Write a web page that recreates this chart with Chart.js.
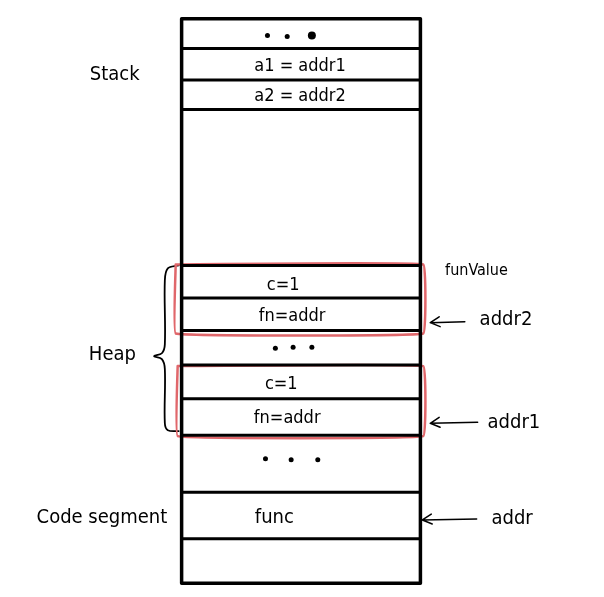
<!DOCTYPE html>
<html>
<head>
<meta charset="utf-8">
<script src="https://cdn.jsdelivr.net/npm/chart.js@4"></script>
<style>
    html, body { margin: 0; padding: 0; background: #fff; }
    #wrap { width: 604px; height: 597px; }
</style>
</head>
<body>
<div id="wrap"><canvas id="memChart"></canvas></div>
<script>
// memory column, in diagram units (0..604 across, 0..597 down)
const colLeft = 180;
const colRight = 422;
const rowLines = [15, 45, 77, 107, 265, 298, 331, 366, 400, 437, 495, 542, 587];

// text inside the cells
const cellTexts = ['a1 = addr1', 'a2 = addr2', 'c=1', 'fn=addr', 'c=1', 'fn=addr', 'func'];
const cellTextX = [300, 300, 283, 292, 281, 287, 274];
const cellTextY = [63, 94, 285, 317, 385, 420, 521];

// segment names on the left
const segNames = ['Stack', 'Heap', 'Code segment'];
const segX = [87, 86, 33];
const segY = [72, 356, 521];

// labels on the right
const sideLabels = ['funValue', 'addr2', 'addr1', 'addr'];
const sideX = [447, 482, 490, 494];
const sideY = [270, 320, 424, 522];

// arrows pointing at the column
const arrowFrom = [467, 480, 479];
const arrowTo = [432, 432, 424];
const arrowY = [323, 425, 523];

// ellipsis dots
const dotX = [267, 287, 312, 275, 293, 312, 265, 291, 318];
const dotY = [32, 33, 32, 349, 348, 348, 461, 462, 462];

// red boxes around the two closures
const boxLeft = [174, 176];
const boxRight = [425, 425];
const boxTop = [264, 367];
const boxBottom = [334, 438];

// curly brace for the heap
const braceX = [177, 166, 163, 163, 160, 152, 160, 163, 163, 166, 177];
const braceY = [265, 268, 280, 345, 354, 357, 360, 370, 425, 432, 433];

const datasets = [];

function lineSet(points, color, width, tension) {
    return {
        type: 'line',
        data: points,
        borderColor: color,
        borderWidth: width,
        pointRadius: 0,
        fill: false,
        tension: tension || 0,
        borderCapStyle: 'round',
        borderJoinStyle: 'round',
        spanGaps: false
    };
}

// column outline
datasets.push(lineSet([
    {x: colLeft, y: rowLines[0]}, {x: colRight, y: rowLines[0]},
    {x: colRight, y: rowLines[rowLines.length - 1]}, {x: colLeft, y: rowLines[rowLines.length - 1]},
    {x: colLeft, y: rowLines[0]}
], '#000', 3.5));

// row dividers
const dividers = [];
rowLines.slice(1, -1).forEach(y => {
    dividers.push({x: colLeft, y: y}, {x: colRight, y: y}, {x: null, y: null});
});
datasets.push(lineSet(dividers, '#000', 3));

// red boxes
boxLeft.forEach((l, i) => {
    datasets.push(lineSet([
        {x: l, y: boxTop[i]}, {x: boxRight[i], y: boxTop[i]},
        {x: boxRight[i], y: boxBottom[i]}, {x: l, y: boxBottom[i]},
        {x: l, y: boxTop[i]}
    ], '#e0676b', 2.5, 0.05));
});

// brace
datasets.push(lineSet(braceX.map((x, i) => ({x: x, y: braceY[i]})), '#000', 1.8, 0.35));

// arrows
arrowFrom.forEach((f, i) => {
    const t = arrowTo[i], y = arrowY[i];
    datasets.push(lineSet([
        {x: f, y: y - 1}, {x: t, y: y}, {x: null, y: null},
        {x: t + 9, y: y - 6}, {x: t, y: y}, {x: t + 10, y: y + 4}
    ], '#000', 1.5, 0));
});

// dots
datasets.push({
    type: 'scatter',
    data: dotX.map((x, i) => ({x: x, y: dotY[i]})),
    pointRadius: dotX.map((x, i) => (i === 2 ? 4 : 2.5)),
    pointBackgroundColor: '#000',
    pointBorderWidth: 0,
    showLine: false
});

const fontFamily = '"DejaVu Sans Condensed", "DejaVu Sans", sans-serif';

const textPlugin = {
    id: 'diagramText',
    afterDatasetsDraw(chart) {
        const ctx = chart.ctx;
        const xs = chart.scales.x, ys = chart.scales.y;
        ctx.save();
        ctx.fillStyle = '#000';
        ctx.textBaseline = 'middle';

        ctx.textAlign = 'center';
        cellTexts.forEach((t, i) => {
            ctx.font = (t === 'func' ? '20px ' : '18px ') + fontFamily;
            ctx.fillText(t, xs.getPixelForValue(cellTextX[i]), ys.getPixelForValue(cellTextY[i]));
        });

        ctx.textAlign = 'left';
        ctx.font = '20px ' + fontFamily;
        segNames.forEach((t, i) => {
            ctx.fillText(t, xs.getPixelForValue(segX[i]), ys.getPixelForValue(segY[i]));
        });

        sideLabels.forEach((t, i) => {
            ctx.font = (i === 0 ? '16px ' : '20px ') + fontFamily;
            ctx.fillText(t, xs.getPixelForValue(sideX[i]), ys.getPixelForValue(sideY[i]));
        });
        ctx.restore();
    }
};

new Chart(document.getElementById('memChart').getContext('2d'), {
    type: 'scatter',
    data: {datasets: datasets},
    options: {
        responsive: true,
        maintainAspectRatio: false,
        animation: false,
        layout: {padding: 0},
        scales: {
            x: {type: 'linear', min: 0, max: 604, display: false},
            y: {type: 'linear', min: 0, max: 597, reverse: true, display: false}
        },
        plugins: {
            legend: {display: false},
            tooltip: {enabled: false}
        }
    },
    plugins: [textPlugin]
});
</script>
</body>
</html>
